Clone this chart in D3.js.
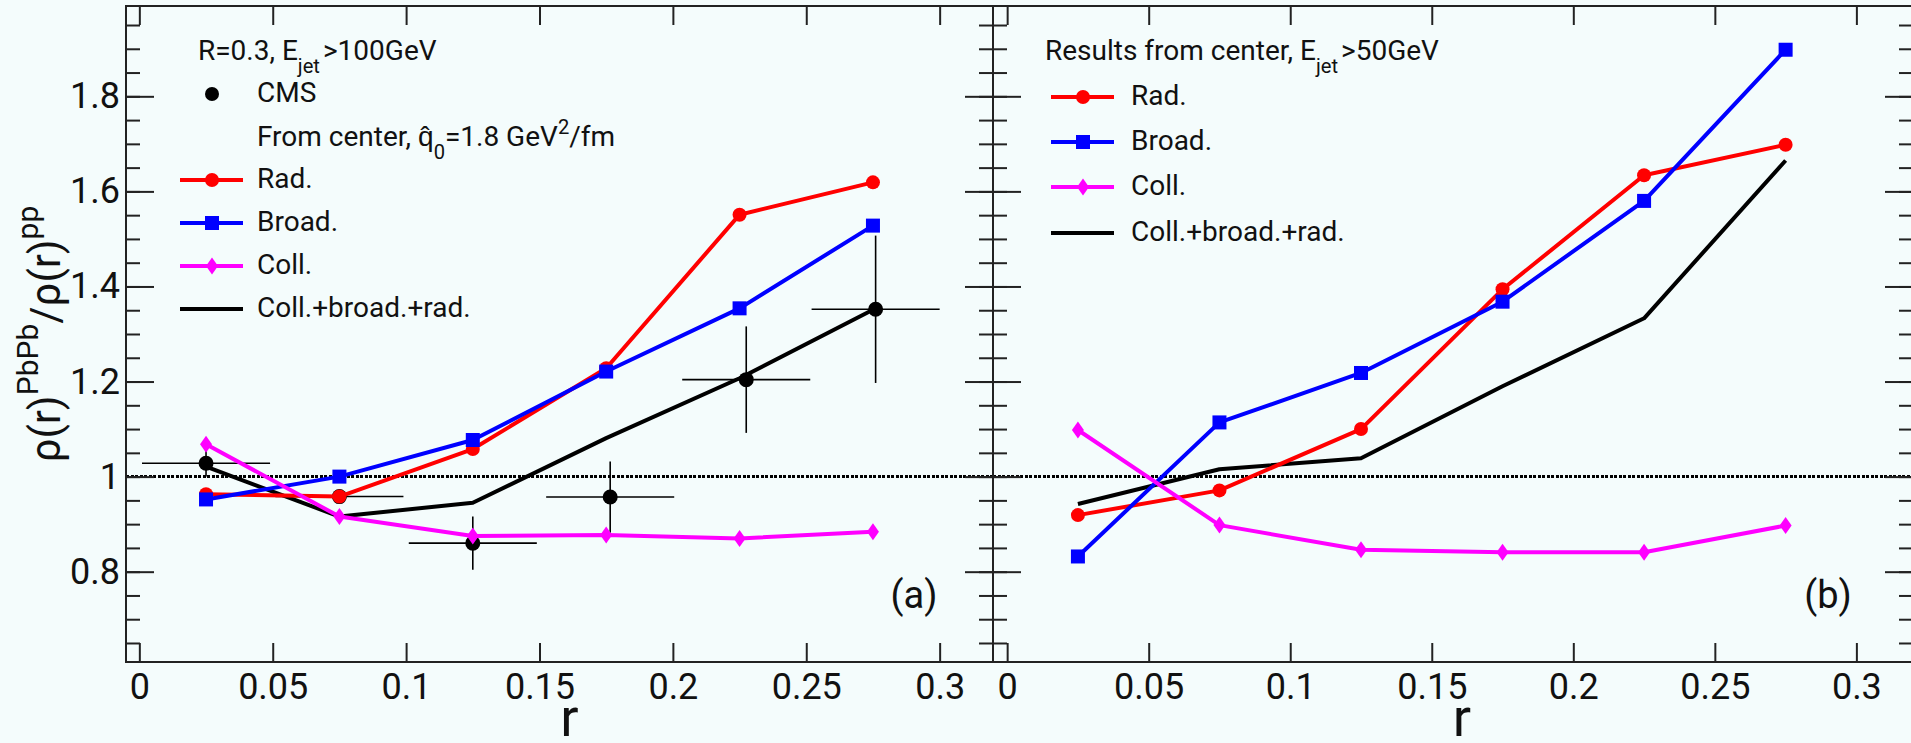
<!DOCTYPE html>
<html>
<head>
<meta charset="utf-8">
<script src="https://cdn.jsdelivr.net/npm/d3@7/dist/d3.min.js"></script>
<style>
  html, body { margin: 0; padding: 0; background: #f4fcfc; }
  svg { display: block; font-family: Roboto, 'Liberation Sans', sans-serif; }
</style>
</head>
<body>
<div id="chart"></div>
<script>
// r bin centres (both panels)
const rBins = [0.025, 0.075, 0.125, 0.175, 0.225, 0.275];

// CMS data, panel (a)
const cmsR = [0.025, 0.075, 0.125, 0.1765, 0.2275, 0.276];
const cmsRatio = [1.028, 0.958, 0.860, 0.957, 1.204, 1.352];
const cmsErrR = [0.024, 0.024, 0.024, 0.024, 0.024, 0.024];
const cmsErrRatio = [0.028, 0.012, 0.056, 0.075, 0.112, 0.155];

// panel (a): from center, qhat0 = 1.8 GeV^2/fm
const radA = [0.963, 0.958, 1.058, 1.228, 1.551, 1.619];
const broadA = [0.952, 1.000, 1.077, 1.221, 1.354, 1.528];
const collA = [1.068, 0.916, 0.875, 0.877, 0.870, 0.884];
const allA = [1.021, 0.916, 0.945, 1.081, 1.207, 1.351];

// panel (b): results from center, Ejet > 50 GeV
const radB = [0.919, 0.971, 1.100, 1.394, 1.634, 1.698];
const broadB = [0.832, 1.114, 1.218, 1.368, 1.580, 1.898];
const collB = [1.098, 0.898, 0.846, 0.841, 0.841, 0.897];
const allB = [0.9425, 1.0155, 1.0386, 1.190, 1.333, 1.665];

// axes
const rDomain = [-0.005, 0.32];
const ratioDomain = [0.61, 1.99];
const rTicks = [0, 0.05, 0.1, 0.15, 0.2, 0.25, 0.3];
const rTickLabels = ['0', '0.05', '0.1', '0.15', '0.2', '0.25', '0.3'];
const ratioTicks = [0.8, 1.0, 1.2, 1.4, 1.6, 1.8];
const ratioTickLabels = ['0.8', '1', '1.2', '1.4', '1.6', '1.8'];
const ratioMinorTicks = d3.range(13, 40).map(d => d * 0.05);

const config = {
  totalWidth: 1911,
  totalHeight: 743,
  bottom: 662,
  majorX: 19,
  majorY: 28,
  minorY: 14,
  frameColor: '#222',
  panels: [
    {left: 126, right: 993, top: 6},
    {left: 993, right: 1913, top: 6}
  ]
};

const series = [
  {key: 'all', color: '#000', marker: null},
  {key: 'rad', color: '#ff0000', marker: 'circle'},
  {key: 'broad', color: '#0000ff', marker: 'square'},
  {key: 'coll', color: '#ff00ff', marker: 'diamond'}
];

const svg = d3.select('#chart').append('svg')
  .attr('width', config.totalWidth)
  .attr('height', config.totalHeight);

svg.append('rect')
  .attr('width', config.totalWidth)
  .attr('height', config.totalHeight)
  .attr('fill', '#f4fcfc');

function drawMarker(g, type, cx, cy, color) {
  if (type === 'circle') {
    g.append('circle').attr('cx', cx).attr('cy', cy).attr('r', 7).attr('fill', color);
  } else if (type === 'square') {
    g.append('rect').attr('x', cx - 7).attr('y', cy - 7).attr('width', 14).attr('height', 14).attr('fill', color);
  } else if (type === 'diamond') {
    g.append('path')
      .attr('d', `M${cx},${cy - 8.5}L${cx + 6},${cy}L${cx},${cy + 8.5}L${cx - 6},${cy}Z`)
      .attr('fill', color);
  }
}

// text with simple sub/superscript parts
function richText(g, x, y, parts, size) {
  const t = g.append('text').attr('x', x).attr('y', y).attr('font-size', size).attr('fill', '#111');
  let shift = 0;
  parts.forEach(p => {
    let target = 0;
    if (p.sub) target = Math.round(size * 0.46);
    if (p.sup) target = -Math.round(size * 0.43);
    t.append('tspan')
      .attr('dy', target - shift)
      .attr('dx', p.dx || 0)
      .attr('font-size', (p.sub || p.sup) ? size * 0.72 : size)
      .text(p.t);
    shift = target;
  });
  return t;
}

function drawAxes(g, x, y, panel, withLabels) {
  const bottomAxis = d3.axisBottom(x).tickValues(rTicks).tickSize(-config.majorX).tickPadding(11)
    .tickFormat((d, i) => withLabels ? rTickLabels[i] : '');
  const topAxis = d3.axisTop(x).tickValues(rTicks).tickSize(-config.majorX).tickFormat('');
  const leftAxis = d3.axisLeft(y).tickValues(ratioTicks).tickSize(-config.majorY).tickPadding(6)
    .tickFormat((d, i) => withLabels === 'y' ? ratioTickLabels[i] : '');
  const leftMinor = d3.axisLeft(y).tickValues(ratioMinorTicks).tickSize(-config.minorY).tickFormat('');
  const rightAxis = d3.axisRight(y).tickValues(ratioTicks).tickSize(-config.majorY).tickFormat('');
  const rightMinor = d3.axisRight(y).tickValues(ratioMinorTicks).tickSize(-config.minorY).tickFormat('');

  const axes = [
    [bottomAxis, `translate(0,${config.bottom})`],
    [topAxis, `translate(0,${panel.top})`],
    [leftAxis, `translate(${panel.left},0)`],
    [leftMinor, `translate(${panel.left},0)`],
    [rightAxis, `translate(${panel.right},0)`],
    [rightMinor, `translate(${panel.right},0)`]
  ];
  axes.forEach(([axis, tr]) => {
    const a = g.append('g').attr('transform', tr).call(axis);
    a.select('.domain').remove();
    a.selectAll('line').attr('stroke', config.frameColor).attr('stroke-width', 2);
    a.selectAll('text')
      .attr('font-family', 'Roboto, sans-serif')
      .attr('font-size', 36)
      .attr('fill', '#111');
  });

  g.append('rect')
    .attr('x', panel.left).attr('y', panel.top)
    .attr('width', panel.right - panel.left)
    .attr('height', config.bottom - panel.top)
    .attr('fill', 'none')
    .attr('stroke', config.frameColor)
    .attr('stroke-width', 2);

  g.append('text')
    .attr('x', (panel.left + Math.min(panel.right, config.totalWidth)) / 2 + 10)
    .attr('y', 736)
    .attr('text-anchor', 'middle')
    .attr('font-size', 54)
    .attr('fill', '#111')
    .text('r');
}

function drawReference(g, x, y) {
  const y1 = Math.round(y(1)) - 0.5;
  g.append('line')
    .attr('x1', x.range()[0]).attr('x2', x.range()[1])
    .attr('y1', y1).attr('y2', y1)
    .attr('stroke', '#000')
    .attr('stroke-width', 3.5)
    .attr('stroke-dasharray', '3,1.5')
    .attr('shape-rendering', 'crispEdges');
}

function drawCms(g, x, y) {
  const eg = g.append('g').attr('stroke', '#000').attr('stroke-width', 1.6);
  cmsR.forEach((r, i) => {
    eg.append('line')
      .attr('x1', x(r - cmsErrR[i])).attr('x2', x(r + cmsErrR[i]))
      .attr('y1', y(cmsRatio[i])).attr('y2', y(cmsRatio[i]));
    eg.append('line')
      .attr('x1', x(r)).attr('x2', x(r))
      .attr('y1', y(cmsRatio[i] - cmsErrRatio[i])).attr('y2', y(cmsRatio[i] + cmsErrRatio[i]));
  });
  g.selectAll('.cms')
    .data(cmsR)
    .enter()
    .append('circle')
    .attr('cx', r => x(r))
    .attr('cy', (r, i) => y(cmsRatio[i]))
    .attr('r', 7.5)
    .attr('fill', '#000');
}

function drawCurves(g, x, y, values) {
  const line = d3.line()
    .x((d, i) => x(rBins[i]))
    .y(d => y(d));
  series.forEach(s => {
    g.append('path')
      .datum(values[s.key])
      .attr('d', line)
      .attr('fill', 'none')
      .attr('stroke', s.color)
      .attr('stroke-width', 4)
      .attr('stroke-linejoin', 'round');
    if (s.marker) {
      values[s.key].forEach((v, i) => drawMarker(g, s.marker, x(rBins[i]), y(v), s.color));
    }
  });
}

function drawLegend(g, x0, textX, rows) {
  rows.forEach(row => {
    if (row.color && row.line !== false) {
      g.append('line')
        .attr('x1', x0 - 32).attr('x2', x0 + 31)
        .attr('y1', row.y - 8).attr('y2', row.y - 8)
        .attr('stroke', row.color)
        .attr('stroke-width', 4);
    }
    if (row.marker) drawMarker(g, row.marker, x0, row.y - 8, row.color);
    richText(g, textX, row.y, row.parts, 28);
  });
}

// y title
svg.append('text')
  .attr('transform', 'translate(60,334) rotate(-90)')
  .attr('text-anchor', 'middle')
  .attr('font-size', 42)
  .attr('fill', '#111')
  .call(t => {
    t.append('tspan').text('ρ(r)');
    t.append('tspan').attr('font-size', 30).attr('dy', -22).text('PbPb');
    t.append('tspan').attr('dy', 22).text('/ρ(r)');
    t.append('tspan').attr('font-size', 30).attr('dy', -22).text('pp');
  });

// panel (a)
{
  const panel = config.panels[0];
  const g = svg.append('g');
  const x = d3.scaleLinear().domain(rDomain).range([panel.left, panel.right]);
  const y = d3.scaleLinear().domain(ratioDomain).range([config.bottom, panel.top]);
  drawReference(g, x, y);
  drawCms(g, x, y);
  drawCurves(g, x, y, {all: allA, rad: radA, broad: broadA, coll: collA});
  drawAxes(g, x, y, panel, 'y');
  richText(g, 198, 60, [{t: 'R=0.3, E'}, {t: 'jet', sub: true}, {t: '>100GeV', dx: 3}], 28);
  drawLegend(g, 212, 257, [
    {y: 102, parts: [{t: 'CMS'}], marker: 'circle', color: '#000', line: false},
    {y: 146, parts: [{t: 'From center, q\u0302'}, {t: '0', sub: true}, {t: '=1.8 GeV'}, {t: '2', sup: true}, {t: '/fm'}]},
    {y: 188, parts: [{t: 'Rad.'}], marker: 'circle', color: '#ff0000'},
    {y: 231, parts: [{t: 'Broad.'}], marker: 'square', color: '#0000ff'},
    {y: 274, parts: [{t: 'Coll.'}], marker: 'diamond', color: '#ff00ff'},
    {y: 317, parts: [{t: 'Coll.+broad.+rad.'}], color: '#000'}
  ]);
  g.append('text').attr('x', 914).attr('y', 608).attr('text-anchor', 'middle')
    .attr('font-size', 38).attr('fill', '#111').text('(a)');
}

// panel (b)
{
  const panel = config.panels[1];
  const g = svg.append('g');
  const x = d3.scaleLinear().domain(rDomain).range([panel.left, panel.right]);
  const y = d3.scaleLinear().domain(ratioDomain).range([config.bottom, panel.top]);
  drawReference(g, x, y);
  drawCurves(g, x, y, {all: allB, rad: radB, broad: broadB, coll: collB});
  drawAxes(g, x, y, panel, 'x');
  richText(g, 1045, 60, [{t: 'Results from center, E'}, {t: 'jet', sub: true}, {t: '>50GeV', dx: 3}], 28);
  drawLegend(g, 1083, 1131, [
    {y: 105, parts: [{t: 'Rad.'}], marker: 'circle', color: '#ff0000'},
    {y: 150, parts: [{t: 'Broad.'}], marker: 'square', color: '#0000ff'},
    {y: 195, parts: [{t: 'Coll.'}], marker: 'diamond', color: '#ff00ff'},
    {y: 241, parts: [{t: 'Coll.+broad.+rad.'}], color: '#000'}
  ]);
  g.append('text').attr('x', 1828).attr('y', 608).attr('text-anchor', 'middle')
    .attr('font-size', 38).attr('fill', '#111').text('(b)');
}
</script>
</body>
</html>
